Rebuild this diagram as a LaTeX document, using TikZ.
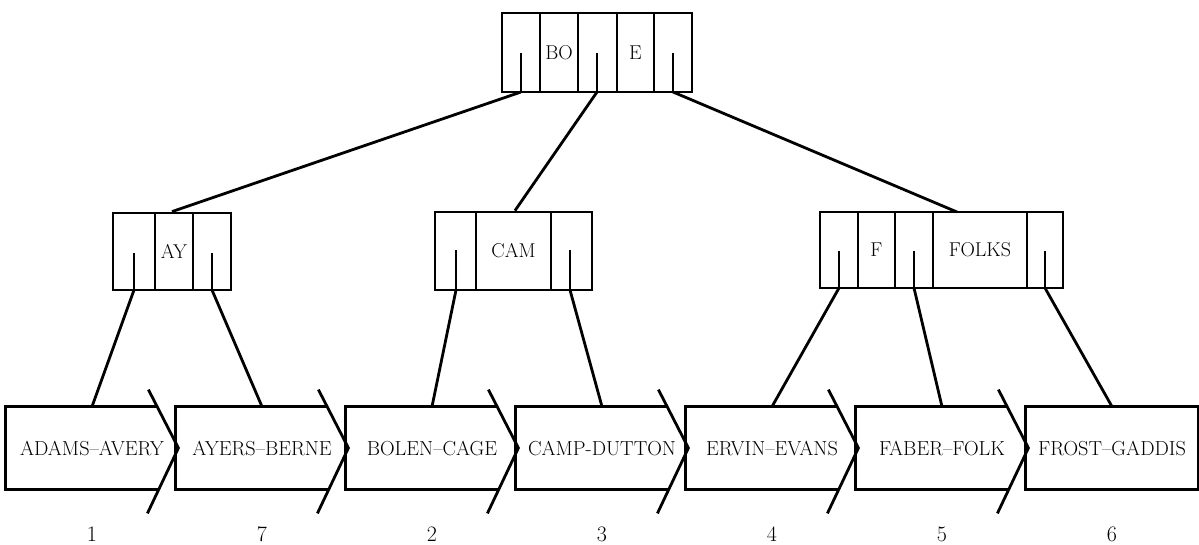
\documentclass[tikz,border=0pt]{standalone}
\usepackage{fontspec}
\newcommand{\labelfont}[1]{\fontsize{#1}{#1}\selectfont\addfontfeature{FakeBold=2}}
\begin{document}
\begin{tikzpicture}[x=1pt, y=-1pt, line width=2.8pt,
  every node/.style={inner sep=0pt},
  idx/.style={draw, rectangle, minimum height=79pt},
  key/.style={font=\labelfont{20}},
  leafbox/.style={minimum width=170pt, minimum height=80pt, font=\labelfont{20.3}},
  leafno/.style={font=\labelfont{22}, anchor=base},
  link/.style={line width=2.8pt}]
\useasboundingbox (0,0) rectangle (1199,544);

% ---- root index block: P | BO | P | E | P
\node[idx, minimum width=190pt] (root) at (597,52.5) {};
\foreach \x in {540,578,617,654} \draw (\x,13) -- (\x,92);
\node[key] (kBO) at (559,53) {BO};
\node[key] (kE) at (635.5,53) {E};
\foreach \x/\n in {521/r1,597/r2,673/r3} {
  \coordinate (\n) at (\x,92);
  \draw (\x,53) -- (\n);
}

% ---- second level: AY
\node[idx, minimum width=118pt, minimum height=77pt] (ay) at (172,251.5) {};
\foreach \x in {155,193} \draw (\x,213) -- (\x,290);
\node[key] (kAY) at (174,251.5) {AY};
\foreach \x/\n in {134/a1,212/a2} {
  \coordinate (\n) at (\x,290);
  \draw (\x,253) -- (\n);
}

% ---- second level: CAM
\node[idx, minimum width=157pt, minimum height=78pt] (cam) at (513.5,251) {};
\foreach \x in {476,551} \draw (\x,212) -- (\x,290);
\node[key] (kCAM) at (513.5,251) {CAM};
\foreach \x/\n in {456/c1,570/c2} {
  \coordinate (\n) at (\x,290);
  \draw (\x,250) -- (\n);
}

% ---- second level: F, FOLKS
\node[idx, minimum width=243pt, minimum height=76pt] (folks) at (941.5,250) {};
\foreach \x in {858,895,933,1027} \draw (\x,212) -- (\x,288);
\node[key] (kF) at (876.5,250) {F};
\node[key] (kFOLKS) at (980,250) {FOLKS};
\foreach \x/\n in {839/f1,914/f2,1045/f3} {
  \coordinate (\n) at (\x,288);
  \draw (\x,251) -- (\n);
}
\coordinate (folksin) at (957,212);

% ---- root to second level
\draw[link] (r1) -- (ay.north);
\draw[link] (r2) -- ([xshift=1.5pt]cam.north);
\draw[link] (r3) -- (folksin);

% ---- leaf blocks (sequence set)
\foreach \i/\t/\n in {1/ADAMS--AVERY/1, 2/AYERS--BERNE/7, 3/BOLEN--CAGE/2,
                      4/CAMP-DUTTON/3, 5/ERVIN--EVANS/4, 6/FABER--FOLK/5,
                      7/FROST--GADDIS/6} {
  \node[leafbox] (l\i) at ({92+170*(\i-1)},448) {\t};
  \node[leafno] (n\i) at ({92+170*(\i-1)},541) {\n};
}
% chevron-ended blocks pointing to the next block
\foreach \i in {1,...,6} {
  \draw ([xshift=-21pt]l\i.north east) -- (l\i.north west) -- (l\i.south west) -- ([xshift=-19pt]l\i.south east);
  \draw[line join=miter] ([shift={(-30,-17)}]l\i.north east) -- (l\i.east) -- ([shift={(-31,24)}]l\i.south east);
}
\draw (l7.north west) rectangle (l7.south east);

% ---- second level to leaves
\draw[link] (a1) -- (l1.north);
\draw[link] (a2) -- (l2.north);
\draw[link] (c1) -- (l3.north);
\draw[link] (c2) -- (l4.north);
\draw[link] (f1) -- (l5.north);
\draw[link] (f2) -- (l6.north);
\draw[link] (f3) -- (l7.north);
\end{tikzpicture}
\end{document}
